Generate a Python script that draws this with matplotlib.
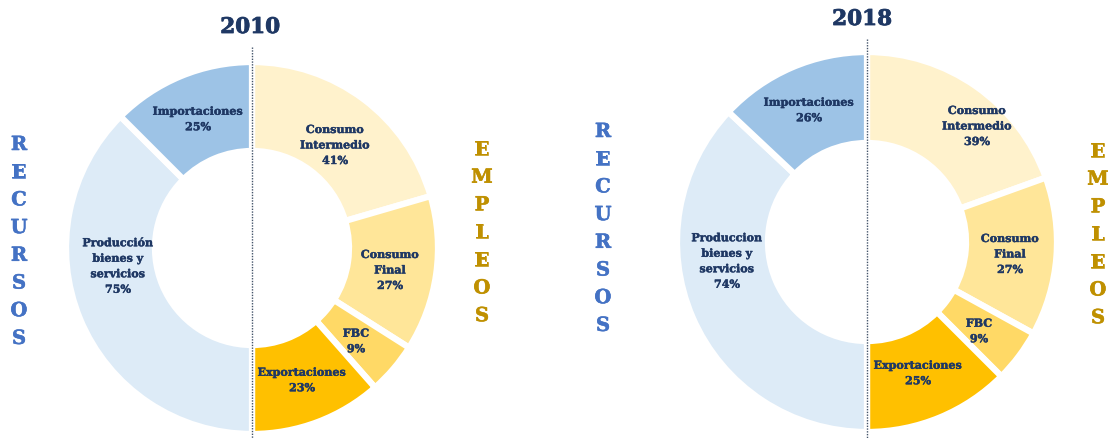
import matplotlib
matplotlib.use("Agg")
import matplotlib.pyplot as plt
import matplotlib.patheffects as pe

# ---------------- data ----------------
years = ["2010", "2018"]
recursos_labels = [["Producción\nbienes y\nservicios", "Importaciones"],
                   ["Produccion\nbienes y\nservicios", "Importaciones"]]
recursos_values = [[75, 25], [74, 26]]
empleos_labels = ["Consumo\nIntermedio", "Consumo\nFinal", "FBC", "Exportaciones"]
empleos_values = [[41, 27, 9, 23], [39, 27, 9, 25]]

# ---------------- style ----------------
W, H = 1108, 438
rec_colors = ["#DDEBF7", "#9DC3E6"]
emp_colors = ["#FFF2CC", "#FFE699", "#FFD966", "#FFC000"]
navy = "#1F3864"
blue = "#4472C4"
gold = "#BF9000"
serif = ["DejaVu Serif"]

# layout in pixel coordinates (y measured from top)
donuts = [
    dict(cx=252, cy=248, r=186, rin=97, title_xy=(250, 27), dash_top=47,
         rec_x=19, rec_y0=145, emp_x=482, emp_y0=150,
         rec_lab=[(118, 266), (198, 119)],
         emp_lab=[(335, 145), (390, 270), (356, 341), (302, 380)]),
    dict(cx=867, cy=242, r=190, rin=99, title_xy=(862, 19), dash_top=39,
         rec_x=603, rec_y0=132, emp_x=1098, emp_y0=152,
         rec_lab=[(727, 261), (809, 110)],
         emp_lab=[(977, 126), (1010, 254), (979, 331), (918, 373)]),
]
letter_step = 27.7


def heavy(color, w):
    return [pe.withStroke(linewidth=w, foreground=color)]


fig = plt.figure(figsize=(W / 100, H / 100), dpi=100)
ax = fig.add_axes([0, 0, 1, 1])

for i, d in enumerate(donuts):
    emp = empleos_values[i]
    rec = recursos_values[i]
    vals = [v / sum(emp) for v in emp] + [v / sum(rec) for v in rec]
    cols = emp_colors + rec_colors
    ax.pie(vals, radius=d["r"], center=(d["cx"], H - d["cy"]), startangle=90,
           counterclock=False, colors=cols,
           wedgeprops=dict(width=d["r"] - d["rin"], edgecolor="white", linewidth=4.5))

    # dotted centre line
    ax.plot([d["cx"], d["cx"]], [H - d["dash_top"], 0], color="#44546A",
            lw=1.0, linestyle=(0, (1, 1)), zorder=5)

    # title
    ax.text(d["title_xy"][0], H - d["title_xy"][1], years[i], ha="center", va="center",
            fontsize=15.5, fontweight="bold", color=navy, family=serif,
            path_effects=heavy(navy, 0.6))

    # slice labels
    for lab, v, (x, y) in zip(empleos_labels, emp, d["emp_lab"]):
        ax.text(x, H - y, f"{lab}\n{v}%", ha="center", va="center", fontsize=8,
                fontweight="bold", color=navy, family=serif, linespacing=1.5, zorder=6,
                path_effects=heavy(navy, 0.3))
    for lab, v, (x, y) in zip(recursos_labels[i], rec, d["rec_lab"]):
        ax.text(x, H - y, f"{lab}\n{v}%", ha="center", va="center", fontsize=8,
                fontweight="bold", color=navy, family=serif, linespacing=1.5, zorder=6,
                path_effects=heavy(navy, 0.3))

    # vertical words
    for k, ch in enumerate("RECURSOS"):
        ax.text(d["rec_x"], H - (d["rec_y0"] + k * letter_step), ch, ha="center",
                va="center", fontsize=14, fontweight="bold", color=blue, family=serif,
                path_effects=heavy(blue, 0.4))
    for k, ch in enumerate("EMPLEOS"):
        ax.text(d["emp_x"], H - (d["emp_y0"] + k * letter_step), ch, ha="center",
                va="center", fontsize=14, fontweight="bold", color=gold, family=serif,
                path_effects=heavy(gold, 0.4))

ax.set_xlim(0, W)
ax.set_ylim(0, H)
ax.set_aspect("auto")
ax.axis("off")
fig.savefig("out.png", dpi=100)
